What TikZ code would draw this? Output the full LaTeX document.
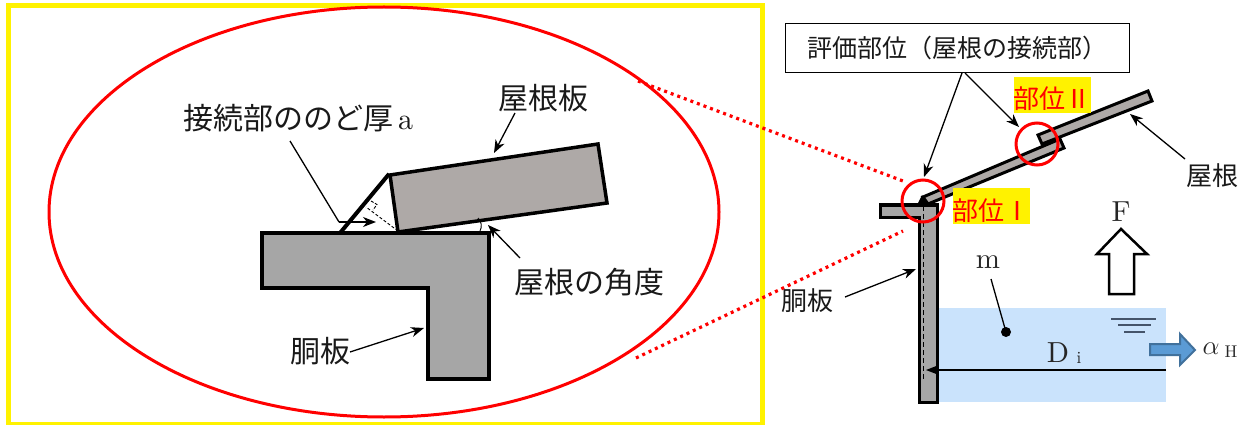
\documentclass[tikz,border=0pt]{standalone}
\usepackage{fontspec}
\newfontfamily\cjk{Noto Sans CJK JP}
\newfontfamily\lat{lmroman10-regular.otf}
\usetikzlibrary{arrows.meta}
\definecolor{platec}{HTML}{A6A6A6}
\definecolor{roofc}{HTML}{AEA9A7}
\definecolor{waterc}{HTML}{CAE3FC}
\definecolor{levelc}{HTML}{44546A}
\definecolor{bluef}{HTML}{5B9BD5}
\definecolor{blued}{HTML}{41719C}
\tikzset{
  x=1pt,y=-1pt,
  steel/.style={draw=black,line join=miter},
  leader/.style={draw=black,line width=1.3pt,-{Stealth[length=13pt,width=10pt,inset=4pt]}},
  plainline/.style={draw=black,line width=1.3pt},
  redring/.style={draw=red,line width=3pt},
  reddots/.style={draw=red,line width=3.2pt,dash pattern=on 3pt off 4pt},
  jbig/.style={font=\cjk\fontsize{30}{30}\selectfont,inner sep=0pt,text=black!90},
  jmid/.style={font=\cjk\fontsize{26}{26}\selectfont,inner sep=0pt,text=black!90},
  jred/.style={font=\cjk\fontsize{26}{26}\selectfont,inner sep=0pt,text=red},
  latin/.style={font=\lat\fontsize{29}{29}\selectfont,inner sep=0pt,text=black!85},
  latinsmall/.style={font=\lat\fontsize{17}{17}\selectfont,inner sep=0pt,text=black!85},
  level/.style={draw=levelc,line width=1.5pt},
}
\begin{document}
\begin{tikzpicture}
\useasboundingbox (0,0) rectangle (1243,425);
% frame and ellipse
\draw[yellow,line width=5pt] (8,6) rectangle (762,424);
\draw[redring] (384,212) ellipse [x radius=335,y radius=205];
% detail parts
\filldraw[steel,fill=platec,line width=3.5pt] (262,233) -- (489,233) -- (489,379) -- (428,379) -- (428,288) -- (262,288) -- cycle;
\filldraw[steel,fill=roofc,line width=3.5pt] (390,175) -- (598,144) -- (607,203) -- (398,232) -- cycle;
\draw[line width=4pt] (340,233) -- (389,174);
\draw[line width=.9pt,dash pattern=on 3pt off 2pt] (398,231) -- (366,207);
\draw[line width=.9pt,dash pattern=on 3pt off 1.5pt] (371,201) -- (377,204.5) -- (373,210);
\draw[line width=.9pt] (478,218) .. controls (482,222) and (482,227) .. (480,231);
% detail labels
\node[jbig] (tlabel) at (298,118) {接続部ののど厚\hspace{5pt}{\lat\fontsize{30}{30}\selectfont a}};
\node[jbig] (rooflabel) at (543,98) {屋根板};
\node[jbig] (anglelabel) at (589,282) {屋根の角度};
\node[jbig] (bodylabel) at (320,351) {胴板};
\coordinate (tstart) at (290,141);
\coordinate (tknee) at (339,222);
\coordinate (ttip) at (376,222);
\draw[plainline] (tstart) -- (tknee);
\draw[leader] (tknee) -- (ttip);
\coordinate (rs) at (515,113);
\coordinate (rt) at (494,153);
\draw[leader] (rs) -- (rt);
\coordinate (as) at (520,258);
\coordinate (at1) at (488,225);
\draw[leader] (as) -- (at1);
\coordinate (bs) at (350,352);
\coordinate (bt) at (424,328);
\draw[leader] (bs) -- (bt);
% water
\fill[waterc] (937,308) rectangle (1166,402);
\draw[level] (1111,319) -- (1156,319);
\draw[level] (1118,325) -- (1151,325);
\draw[level] (1124,332) -- (1145,332);
% roof and shell
\filldraw[steel,fill=platec,line width=3pt] (880,205) -- (937,205) -- (937,402) -- (919,402) -- (919,217) -- (880,217) -- cycle;
\draw[line width=1pt,dash pattern=on 5pt off 3pt] (923,206) -- (923,379);
\fill (922,195) -- (917,205) -- (928,205) -- cycle;
\filldraw[steel,fill=roofc,line width=3pt] (923,197) -- (1060,139) -- (1064,148) -- (928,204) -- cycle;
\filldraw[steel,fill=roofc,line width=3pt] (1038,135) -- (1148,91) -- (1152,101) -- (1042,144) -- cycle;
% rings and dotted
\draw[redring] (923,201) circle (21);
\draw[redring] (1037,144) circle (21);
\coordinate (da) at (638,81);
\coordinate (db) at (903,181);
\coordinate (dc) at (636,358);
\coordinate (dd) at (903,231);
\draw[reddots] (da) -- (db);
\draw[reddots] (dc) -- (dd);
% highlight labels
\fill[yellow] (1014,77) rectangle (1091,113);
\fill[yellow] (953,188) rectangle (1030,224);
\node[jred] (p2) at (1052,99) {部位Ⅱ};
\node[jred] (p1) at (991,211) {部位Ⅰ};
% callout
\node[draw=black,line width=1pt,minimum width=344pt,minimum height=49pt,inner sep=0pt,font=\cjk\fontsize{25}{25}\selectfont,text=black!90] (box) at (957,48.5) {評価部位（屋根の接続部）\hspace{6pt}};
\coordinate (c1) at (962,73);
\coordinate (c1t) at (924,177);
\coordinate (c2) at (965,73);
\coordinate (c2t) at (1019,127);
\draw[leader] (c1) -- (c1t);
\draw[leader] (c2) -- (c2t);
% other labels
\node[jmid] (rlabel) at (1212,176) {屋根};
\coordinate (r1) at (1185,159);
\coordinate (r1t) at (1130,114);
\draw[leader] (r1) -- (r1t);
\node[jmid] (blabel) at (807,301) {胴板};
\coordinate (b1) at (845,297);
\coordinate (b1t) at (916,269);
\draw[leader] (b1) -- (b1t);
\node[latin] (m) at (988,262) {m};
\node[latin] (f) at (1121,212) {F};
\coordinate (ms) at (991,279);
\coordinate (mdot) at (1006,332);
\draw[plainline] (ms) -- (mdot);
\fill (mdot) circle (5);
% F arrow
\draw[line width=2.5pt,line join=miter] (1121,229) -- (1147,254) -- (1134,254) -- (1134,294) -- (1109,294) -- (1109,254) -- (1097,254) -- cycle;
% Di
\node[latin,anchor=base] (d) at (1058,362) {D};
\node[latinsmall,anchor=base] (i) at (1079,363) {i};
\coordinate (ds) at (1166,370);
\coordinate (dt) at (926,370);
\draw[leader] (ds) -- (dt);
% blue arrow
\filldraw[fill=bluef,draw=blued,line width=2pt] (1150,344) -- (1180,344) -- (1180,334) -- (1195,350) -- (1180,365) -- (1180,355) -- (1150,355) -- cycle;
\node[font=\fontsize{20}{20}\selectfont,scale=1.3,inner sep=0pt,anchor=base,text=black!85] (al) at (1211,354) {$\alpha$};
\node[latinsmall,anchor=base] (h) at (1231,357) {H};
\end{tikzpicture}
\end{document}
